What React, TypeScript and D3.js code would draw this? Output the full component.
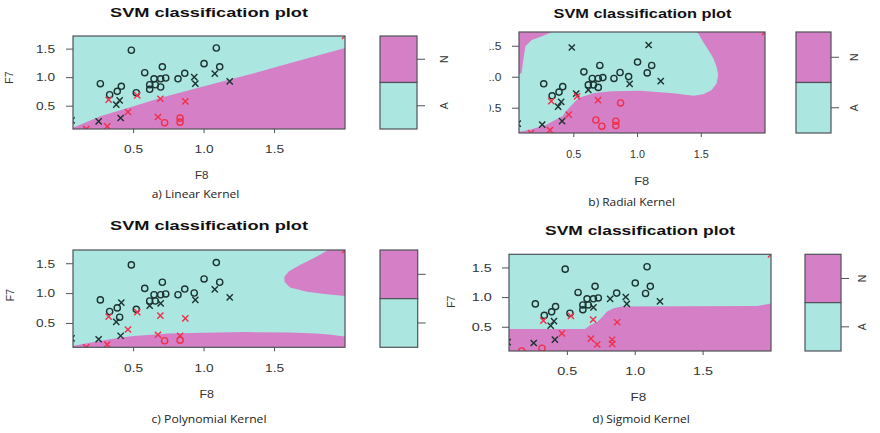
import React from "react";
import * as d3 from "d3";

type Pt = [number, number];

// Observations: F8 (x), F7 (y) and class label
const f8 = [0.264, 0.33, 0.384, 0.413, 0.484, 0.519, 0.579, 0.614, 0.614, 0.645, 0.654, 0.692, 0.692, 0.704, 0.728, 0.815, 0.863, 1.0, 1.087, 1.111, 0.93, 0.938, 1.076, 1.182, 0.252, 0.377, 0.401, 0.408, 0.06, 0.323, 0.526, 0.46, 0.313, 0.164, 0.69, 0.673, 0.867, 0.83, 0.83, 0.72, 2.0];
const f7 = [0.894, 0.7, 0.76, 0.848, 1.48, 0.736, 1.087, 0.876, 0.796, 0.98, 0.876, 0.98, 0.836, 1.19, 0.994, 0.98, 1.076, 1.245, 1.52, 1.19, 1.01, 0.894, 1.07, 0.936, 0.235, 0.526, 0.603, 0.293, 0.25, 0.613, 0.69, 0.398, 0.147, 0.1, 0.63, 0.31, 0.585, 0.29, 0.22, 0.21, 1.73];
const labels = ["A", "A", "A", "A", "A", "A", "A", "A", "A", "A", "A", "A", "A", "A", "A", "A", "A", "A", "A", "A", "A", "A", "A", "A", "A", "A", "A", "A", "A", "N", "N", "N", "N", "N", "N", "N", "N", "N", "N", "N", "N"];

// Support vectors of each fitted kernel (drawn as crosses)
const svLinear = [20, 21, 22, 23, 24, 25, 26, 27, 28, 29, 30, 31, 32, 33, 34, 35, 36, 40];
const svRadial = [4, 5, 8, 18, 21, 23, 24, 25, 26, 27, 28, 29, 30, 31, 32, 33, 34, 40];
const svPolynomial = [3, 8, 12, 21, 22, 23, 24, 25, 27, 28, 29, 30, 31, 32, 33, 34, 35, 36, 37, 40];
const svSigmoid = [12, 15, 20, 21, 23, 24, 25, 26, 27, 28, 29, 30, 31, 34, 35, 36, 37, 38, 39, 40];

// Decision boundaries (F8, F7)
const linearEdge: Pt[] = [[0.07, 0.12], [0.27, 0.33], [0.5, 0.5], [0.7, 0.65], [1.0, 0.85], [1.3, 1.04], [1.6, 1.25], [2.0, 1.52]];
const radialRegion: Pt[] = [[0.33, 1.73], [1.46, 1.73], [1.476, 1.71], [1.515, 1.57], [1.555, 1.44], [1.594, 1.31], [1.62, 1.17], [1.633, 1.04], [1.62, 0.9], [1.58, 0.79], [1.515, 0.725], [1.44, 0.7], [1.28, 0.74], [1.02, 0.78], [0.8, 0.775], [0.67, 0.75], [0.54, 0.67], [0.46, 0.5], [0.41, 0.37], [0.28, 0.23], [0.15, 0.15], [0.07, 0.12], [0.07, 1.05], [0.09, 1.07], [0.105, 1.3], [0.12, 1.5], [0.17, 1.6], [0.25, 1.66]];
const polyEdge: Pt[] = [[0.07, 0.12], [0.15, 0.16], [0.27, 0.21], [0.4, 0.26], [0.5, 0.29], [0.75, 0.33], [1.0, 0.345], [1.3, 0.355], [1.6, 0.35], [1.8, 0.33], [1.9, 0.31], [2.0, 0.28]];
const polyLobe: Pt[] = [[1.88, 1.73], [1.8, 1.62], [1.68, 1.48], [1.6, 1.37], [1.57, 1.28], [1.57, 1.2], [1.61, 1.1], [1.73, 1.03], [1.87, 0.99], [2.0, 0.96], [2.0, 1.73]];
const sigmoidEdge: Pt[] = [[0.06, 0.47], [0.63, 0.47], [0.67, 0.54], [0.72, 0.59], [0.76, 0.68], [0.79, 0.76], [0.84, 0.82], [0.9, 0.85], [1.9, 0.86], [1.95, 0.88], [2.0, 0.9]];

const xTicks = [0.5, 1.0, 1.5];
const yTicks = [0.5, 1.0, 1.5];
const classOrder = ["N", "A"];
const xDomain: Pt = [0.07, 2.0];
const yDomain: Pt = [0.1, 1.73];

const CYAN = "#abe6e1";
const MAGENTA = "#d57fc6";
const BORDER = "#4f5358";
const INK = "#1c3330";
const RED = "#f0304a";
const SANS = "'Liberation Sans', Arial, sans-serif";

type Rect = { x0: number; x1: number; y0: number; y1: number };
type Spec = {
  id: string;
  plot: Rect;
  legend: Rect;
  sv: number[];
  base: string;
  regions: { kind: "below" | "ring"; pts: Pt[]; fill: string }[];
  title: { cx: number; y: number; len: number };
  xTickY: number;
  xTickLen: number;
  yTickRight: number;
  yTickLen: number;
  xLabel: { cx: number; y: number; len: number };
  yLabel?: { cx: number; cy: number };
  caption: { text: string; cx: number; y: number; len: number };
  legendLabelX?: number;
  clip?: Rect;
};

const specs: Spec[] = [
  {
    id: "lin",
    plot: { x0: 73, x1: 345, y0: 36, y1: 129 },
    legend: { x0: 380, x1: 417, y0: 36, y1: 129 },
    sv: svLinear,
    base: CYAN,
    regions: [{ kind: "below", pts: linearEdge, fill: MAGENTA }],
    title: { cx: 209, y: 16.5, len: 198 },
    xTickY: 153, xTickLen: 19,
    yTickRight: 55, yTickLen: 19,
    xLabel: { cx: 201.7, y: 178.5, len: 13.5 },
    yLabel: { cx: 9, cy: 77.5 },
    caption: { text: "a) Linear Kernel", cx: 195.5, y: 198, len: 87.6 },
    legendLabelX: 444,
  },
  {
    id: "rad",
    plot: { x0: 519, x1: 765, y0: 32, y1: 133 },
    legend: { x0: 796, x1: 831, y0: 32, y1: 133 },
    sv: svRadial,
    base: MAGENTA,
    regions: [{ kind: "ring", pts: radialRegion, fill: CYAN }],
    title: { cx: 642.5, y: 17.5, len: 178 },
    xTickY: 158, xTickLen: 15,
    yTickRight: 501.5, yTickLen: 16.7,
    xLabel: { cx: 641.7, y: 185, len: 15 },
    caption: { text: "b) Radial Kernel", cx: 631.7, y: 206, len: 86.7 },
    legendLabelX: 854,
    clip: { x0: 489.5, x1: 880, y0: 0, y1: 215 },
  },
  {
    id: "poly",
    plot: { x0: 73, x1: 345, y0: 250, y1: 347.3 },
    legend: { x0: 380, x1: 417.7, y0: 250, y1: 347.3 },
    sv: svPolynomial,
    base: CYAN,
    regions: [
      { kind: "below", pts: polyEdge, fill: MAGENTA },
      { kind: "ring", pts: polyLobe, fill: MAGENTA },
    ],
    title: { cx: 209, y: 229.5, len: 198 },
    xTickY: 371.5, xTickLen: 19,
    yTickRight: 55, yTickLen: 19,
    xLabel: { cx: 206.7, y: 398.3, len: 14.5 },
    yLabel: { cx: 10, cy: 295 },
    caption: { text: "c) Polynomial Kernel", cx: 209, y: 423.3, len: 115 },
  },
  {
    id: "sig",
    plot: { x0: 509, x1: 771, y0: 254.3, y1: 351 },
    legend: { x0: 805, x1: 841, y0: 254.3, y1: 351 },
    sv: svSigmoid,
    base: CYAN,
    regions: [{ kind: "below", pts: sigmoidEdge, fill: MAGENTA }],
    title: { cx: 640, y: 235, len: 190 },
    xTickY: 375, xTickLen: 20,
    yTickRight: 491.7, yTickLen: 20,
    xLabel: { cx: 638.3, y: 401, len: 15.7 },
    yLabel: { cx: 450.8, cy: 301.7 },
    caption: { text: "d) Sigmoid Kernel", cx: 641, y: 422.7, len: 97.3 },
    legendLabelX: 862,
  },
];

function Marker({ cx, cy, cross, color }: { cx: number; cy: number; cross: boolean; color: string }) {
  if (cross) {
    const s = 3.1;
    return (
      <path
        d={`M${cx - s},${cy - s}L${cx + s},${cy + s}M${cx - s},${cy + s}L${cx + s},${cy - s}`}
        stroke={color}
        strokeWidth={1.4}
        fill="none"
      />
    );
  }
  return <circle cx={cx} cy={cy} r={3.1} stroke={color} strokeWidth={1.4} fill="none" />;
}

function Panel({ spec }: { spec: Spec }) {
  const { plot, legend } = spec;
  const x = d3.scaleLinear().domain(xDomain).range([plot.x0, plot.x1]);
  const y = d3.scaleLinear().domain(yDomain).range([plot.y1, plot.y0]);
  const below = d3
    .area<Pt>()
    .x((d) => x(d[0]))
    .y0(y(yDomain[0]))
    .y1((d) => y(d[1]));
  const ring = d3
    .line<Pt>()
    .x((d) => x(d[0]))
    .y((d) => y(d[1]));
  const band = d3.scaleBand<string>().domain(classOrder).range([legend.y0, legend.y1]);
  const svSet = new Set(spec.sv);
  const clipId = `plot-${spec.id}`;
  const panelClip = `panel-${spec.id}`;

  return (
    <g clipPath={spec.clip ? `url(#${panelClip})` : undefined}>
      <defs>
        <clipPath id={clipId}>
          <rect x={plot.x0} y={plot.y0} width={plot.x1 - plot.x0} height={plot.y1 - plot.y0} />
        </clipPath>
        {spec.clip && (
          <clipPath id={panelClip}>
            <rect x={spec.clip.x0} y={spec.clip.y0} width={spec.clip.x1 - spec.clip.x0} height={spec.clip.y1 - spec.clip.y0} />
          </clipPath>
        )}
      </defs>

      <text
        x={spec.title.cx}
        y={spec.title.y}
        textAnchor="middle"
        fontFamily={SANS}
        fontWeight="bold"
        fontSize={13}
        textLength={spec.title.len}
        lengthAdjust="spacingAndGlyphs"
        fill="#111"
      >
        SVM classification plot
      </text>

      <g clipPath={`url(#${clipId})`}>
        <rect x={plot.x0} y={plot.y0} width={plot.x1 - plot.x0} height={plot.y1 - plot.y0} fill={spec.base} />
        {spec.regions.map((r, i) => (
          <path
            key={i}
            d={r.kind === "below" ? below(r.pts) || "" : (ring(r.pts) || "") + "Z"}
            fill={r.fill}
          />
        ))}
        {f8.map((v, i) => (
          <Marker
            key={i}
            cx={x(v)}
            cy={y(f7[i])}
            cross={svSet.has(i)}
            color={labels[i] === "A" ? INK : RED}
          />
        ))}
      </g>
      <rect
        x={plot.x0}
        y={plot.y0}
        width={plot.x1 - plot.x0}
        height={plot.y1 - plot.y0}
        fill="none"
        stroke={BORDER}
        strokeWidth={1.2}
      />

      {/* x axis */}
      {xTicks.map((t) => (
        <g key={`x${t}`}>
          <line x1={x(t)} x2={x(t)} y1={plot.y1} y2={plot.y1 + 4} stroke={BORDER} strokeWidth={1} />
          <text
            x={x(t)}
            y={spec.xTickY}
            textAnchor="middle"
            fontFamily={SANS}
            fontSize={10.5}
            textLength={spec.xTickLen}
            lengthAdjust="spacingAndGlyphs"
            fill="#333"
          >
            {t.toFixed(1)}
          </text>
        </g>
      ))}

      {/* y axis */}
      {yTicks.map((t) => (
        <g key={`y${t}`}>
          <line x1={plot.x0 - 7} x2={plot.x0} y1={y(t)} y2={y(t)} stroke={BORDER} strokeWidth={1} />
          <text
            x={spec.yTickRight}
            y={y(t) + 3.8}
            textAnchor="end"
            fontFamily={SANS}
            fontSize={10.5}
            textLength={spec.yTickLen}
            lengthAdjust="spacingAndGlyphs"
            fill="#333"
          >
            {t.toFixed(1)}
          </text>
        </g>
      ))}

      <text
        x={spec.xLabel.cx}
        y={spec.xLabel.y}
        textAnchor="middle"
        fontFamily={SANS}
        fontSize={10.5}
        textLength={spec.xLabel.len}
        lengthAdjust="spacingAndGlyphs"
        fill="#333"
      >
        F8
      </text>
      {spec.yLabel && (
        <text
          transform={`translate(${spec.yLabel.cx},${spec.yLabel.cy}) rotate(-90)`}
          textAnchor="middle"
          dominantBaseline="central"
          fontFamily={SANS}
          fontSize={10.5}
          fill="#333"
        >
          F7
        </text>
      )}

      <text
        x={spec.caption.cx}
        y={spec.caption.y}
        textAnchor="middle"
        fontFamily="'Open Sans', 'Noto Sans', sans-serif"
        fontSize={11}
        textLength={spec.caption.len}
        lengthAdjust="spacingAndGlyphs"
        fill="#222"
      >
        {spec.caption.text}
      </text>

      {/* class colour key */}
      {classOrder.map((c) => (
        <g key={c}>
          <rect
            x={legend.x0}
            y={band(c)}
            width={legend.x1 - legend.x0}
            height={band.bandwidth()}
            fill={c === "N" ? MAGENTA : CYAN}
            stroke={BORDER}
            strokeWidth={1.2}
          />
          <line
            x1={legend.x1}
            x2={legend.x1 + 8}
            y1={(band(c) || 0) + band.bandwidth() / 2}
            y2={(band(c) || 0) + band.bandwidth() / 2}
            stroke={BORDER}
            strokeWidth={1}
          />
          {spec.legendLabelX !== undefined && (
            <text
              transform={`translate(${spec.legendLabelX},${(band(c) || 0) + band.bandwidth() / 2}) rotate(-90)`}
              textAnchor="middle"
              dominantBaseline="central"
              fontFamily={SANS}
              fontSize={10.5}
              fill="#333"
            >
              {c}
            </text>
          )}
        </g>
      ))}
    </g>
  );
}

export default function App() {
  return (
    <svg
      width={880}
      height={433}
      viewBox="0 0 880 433"
      style={{ position: "absolute", left: 0, top: 0, display: "block", background: "#fff" }}
    >
      <rect x={0} y={0} width={880} height={433} fill="#fff" />
      {specs.map((s) => (
        <Panel key={s.id} spec={s} />
      ))}
    </svg>
  );
}
